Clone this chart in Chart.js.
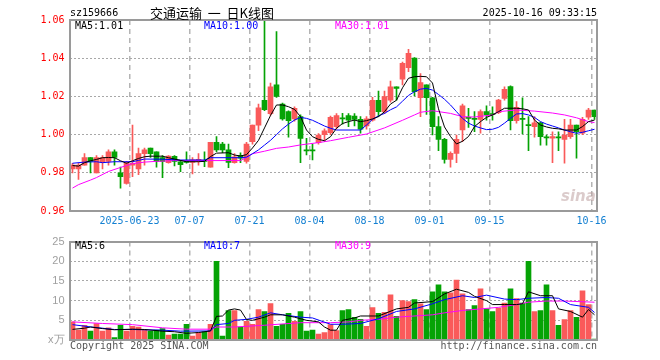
<!DOCTYPE html>
<html>
<head>
<meta charset="utf-8">
<script src="https://cdn.jsdelivr.net/npm/chart.js@4.4.1/dist/chart.umd.min.js"></script>
<style>
  body { margin: 0; background: #fff; }
  #wrap { position: relative; width: 660px; height: 360px; font-family: "DejaVu Sans Mono", monospace; font-size: 10px; }
  canvas { position: absolute; left: 0; }
  .t { position: absolute; white-space: nowrap; line-height: 12px; }
</style>
</head>
<body>
<div id="wrap">
  <canvas id="kline" width="660" height="230" style="top:0"></canvas>
  <canvas id="vol" width="660" height="130" style="top:230px"></canvas>

  <div class="t" style="left:70px;top:7px">sz159666</div>
  <div class="t" style="left:212px;top:5px;transform:translateX(-50%);font-family:'Noto Sans CJK SC',sans-serif;font-size:13px;line-height:15px">交通运输&nbsp; 一&nbsp; 日K线图</div>
  <div class="t" style="right:63px;top:7px">2025-10-16 09:33:15</div>

  <div class="t" style="left:75px;top:20px;color:#000">MA5:1.01</div>
  <div class="t" style="left:204px;top:20px;color:#0000ff">MA10:1.00</div>
  <div class="t" style="left:335px;top:20px;color:#ff00ff">MA30:1.01</div>
  <div class="t" style="left:561px;top:188px;font:italic bold 15px 'DejaVu Sans',sans-serif;line-height:16px;color:rgba(190,160,160,0.55)">sina</div>

  <div class="t" style="left:75px;top:240px;color:#000">MA5:6</div>
  <div class="t" style="left:204px;top:240px;color:#0000ff">MA10:7</div>
  <div class="t" style="left:335px;top:240px;color:#ff00ff">MA30:9</div>

  <div class="t" style="left:70px;top:340px;color:#555">Copyright 2025 SINA.COM</div>
  <div class="t" style="right:63px;top:340px;color:#555">http://finance.sina.com.cn</div>
</div>

<script>
// trading days
const dates = [
  "06-09","06-10","06-11","06-12","06-13","06-16","06-17","06-18","06-19","06-20",
  "06-23","06-24","06-25","06-26","06-27","06-30","07-01","07-02","07-03","07-04",
  "07-07","07-08","07-09","07-10","07-11","07-14","07-15","07-16","07-17","07-18",
  "07-21","07-22","07-23","07-24","07-25","07-28","07-29","07-30","07-31","08-01",
  "08-04","08-05","08-06","08-07","08-08","08-11","08-12","08-13","08-14","08-15",
  "08-18","08-19","08-20","08-21","08-22","08-25","08-26","08-27","08-28","08-29",
  "09-01","09-02","09-03","09-04","09-05","09-08","09-09","09-10","09-11","09-12",
  "09-15","09-16","09-17","09-18","09-19","09-22","09-23","09-24","09-25","09-26",
  "09-29","09-30","10-09","10-10","10-13","10-14","10-15","10-16"
];
const tickDays = ["06-23","07-07","07-21","08-04","08-18","09-01","09-15","10-16"];
const tickText = ["2025-06-23","07-07","07-21","08-04","08-18","09-01","09-15","10-16"];

const open = [
  0.982,0.982,0.984,0.988,0.980,0.9855,0.986,0.991,0.980,0.9745,
  0.984,0.982,0.990,0.993,0.991,0.988,0.9853,0.9886,0.9858,0.9858,
  0.9855,0.986,0.9865,0.983,0.996,0.995,0.992,0.9853,0.989,0.986,
  0.9963,1.005,1.018,1.011,1.026,1.016,1.012,1.0082,1.0094,0.992,
  0.992,0.9958,1.000,1.001,1.0042,1.0084,1.0099,1.0097,1.008,1.0045,
  1.0076,1.018,1.012,1.018,1.025,1.029,1.035,1.040,1.0193,1.026,
  1.0193,1.0042,0.9975,0.987,0.9902,1.0024,1.0087,1.0082,1.008,1.012,
  1.0107,1.0115,1.019,1.0251,1.0073,1.0082,1.0049,1.0042,1.0062,0.9985,
  0.9981,0.9985,0.9975,0.9989,1.005,1.0007,1.0091,1.0129
];
const high = [
  0.985,0.985,0.990,0.988,0.989,0.989,0.992,0.992,0.983,0.986,
  1.005,0.993,0.993,0.993,0.991,0.989,0.989,0.989,0.986,0.991,
  0.988,0.990,0.991,0.996,0.999,0.996,0.995,0.990,0.9905,0.996,
  1.005,1.016,1.060,1.027,1.054,1.0165,1.0125,1.0145,1.0103,0.998,
  0.995,1.0005,1.003,1.0097,1.011,1.0111,1.011,1.011,1.0094,1.0094,
  1.0195,1.0228,1.0228,1.028,1.025,1.038,1.0446,1.0403,1.032,1.026,
  1.0195,1.0094,0.998,0.991,0.9998,1.016,1.0138,1.012,1.013,1.015,
  1.0146,1.0185,1.025,1.0255,1.0173,1.0193,1.0094,1.0094,1.0065,0.9998,
  1.0015,1.0015,1.008,1.008,1.005,1.009,1.0138,1.0129
];
const low = [
  0.980,0.9765,0.984,0.980,0.980,0.982,0.984,0.984,0.972,0.974,
  0.978,0.979,0.984,0.988,0.983,0.9775,0.985,0.9836,0.9806,0.985,
  0.9794,0.984,0.9832,0.983,0.991,0.9905,0.9827,0.985,0.9853,0.985,
  0.995,1.002,1.0125,1.010,1.0195,1.0075,0.9986,1.007,0.9853,0.9893,
  0.9867,0.995,0.997,1.000,1.003,1.0055,1.0042,1.0045,1.0007,1.0028,
  1.007,1.0094,1.011,1.017,1.018,1.026,1.033,1.0202,1.0094,1.0106,
  0.9998,0.9916,0.985,0.9829,0.9853,0.9963,1.0038,1.0015,1.0007,1.0076,
  1.0076,1.011,1.018,1.0024,1.006,1.0003,0.9916,0.9986,0.9945,0.9945,
  0.9853,0.9916,0.985,0.998,0.9876,1.000,1.008,1.008
];
const close = [
  0.984,0.984,0.988,0.986,0.988,0.988,0.991,0.988,0.978,0.985,
  0.985,0.990,0.992,0.990,0.986,0.986,0.9888,0.986,0.9843,0.9855,
  0.9868,0.987,0.986,0.996,0.992,0.992,0.9855,0.9884,0.9876,0.995,
  1.005,1.014,1.013,1.025,1.020,1.0082,1.0073,1.0138,0.998,0.9915,
  0.9915,0.9998,1.002,1.009,1.0099,1.0082,1.0076,1.008,1.0028,1.0082,
  1.018,1.012,1.0199,1.025,1.0242,1.0373,1.0425,1.0225,1.0272,1.0193,
  1.0042,0.9975,0.987,0.9902,0.9975,1.015,1.0085,1.008,1.012,1.0103,
  1.0105,1.0181,1.0237,1.0073,1.0143,1.008,1.0047,1.0062,0.9989,0.9983,
  0.9989,0.9983,0.9998,1.005,1.0015,1.008,1.0129,1.0094
];
// volume, 万
const volume = [
  4.6,2.5,3.75,2.25,4.2,2.25,3.1,0.6,3.75,2.25,
  3.5,3.3,2.5,2.25,2.5,2.9,1.25,1.5,1.5,4.0,
  1.0,1.9,2.1,4.0,20.0,1.0,7.5,7.5,3.3,4.75,
  4.0,7.75,7.25,9.25,3.5,4.0,6.8,4.75,7.25,2.25,
  2.5,1.5,1.9,3.9,2.4,7.5,7.75,5.75,5.25,3.5,
  8.25,6.75,7.0,11.5,6.0,10.0,9.75,10.25,9.2,7.75,
  12.25,14.0,12.25,12.0,15.25,11.75,7.75,8.75,13.0,7.9,
  7.25,8.1,9.4,13.0,10.5,9.4,20.0,7.25,7.5,14.0,
  7.5,3.75,5.2,7.5,5.75,12.5,9.0,0.25
];

// moving averages: [day index, value]
const priceMa5 = [[0,0.9838],[1,0.9835],[2,0.9853],[3,0.9863],[4,0.987],[5,0.9879],[6,0.988],[7,0.9879],[8,0.9863],[9,0.985],
  [10,0.9863],[11,0.9875],[12,0.9884],[13,0.9887],[15,0.9887],[16,0.9879],[17,0.9872],[19,0.9858],[21,0.9858],[22,0.986],
  [23,0.9885],[24,0.9903],[26,0.9905],[27,0.9893],[28,0.9888],[29,0.9895],[30,0.993],[31,0.997],[32,1.0035],[33,1.010],
  [34,1.0155],[35,1.0155],[36,1.0146],[37,1.0132],[38,1.0094],[39,1.0024],[40,0.9989],[41,0.9975],[42,0.9968],[43,0.9989],
  [44,1.0033],[45,1.0058],[46,1.0068],[47,1.0076],[48,1.0068],[49,1.0073],[50,1.0082],[51,1.0094],[52,1.012],[53,1.016],
  [54,1.018],[55,1.0245],[56,1.0295],[57,1.0303],[58,1.0305],[59,1.0303],[60,1.027],[61,1.0135],[62,1.004],[63,0.999],
  [64,0.9951],[65,0.9965],[66,0.999],[67,1.0042],[68,1.0068],[69,1.009],[70,1.0103],[71,1.012],[72,1.0138],[74,1.0138],
  [75,1.0135],[76,1.0129],[77,1.0076],[78,1.005],[79,1.004],[80,1.0033],[81,1.003],[82,1.0024],[84,1.0024],[85,1.0042],
  [86,1.0068],[87,1.0076]];
const priceMa10 = [[0,0.985],[2,0.9856],[4,0.9858],[5,0.9853],[7,0.9858],[10,0.9858],[11,0.9865],[12,0.9872],[15,0.9871],[18,0.9867],
  [22,0.9867],[23,0.9879],[28,0.9879],[29,0.9882],[30,0.990],[31,0.992],[32,0.9945],[33,0.997],[34,1.000],[35,1.003],
  [36,1.0055],[37,1.0076],[38,1.009],[39,1.0085],[40,1.0075],[41,1.006],[42,1.0045],[43,1.0033],[44,1.0024],[48,1.0024],
  [49,1.005],[50,1.008],[51,1.0098],[52,1.0111],[53,1.013],[54,1.0145],[55,1.0175],[56,1.0205],[57,1.0225],[58,1.0238],
  [59,1.0242],[60,1.0233],[61,1.021],[62,1.0185],[63,1.0155],[64,1.012],[65,1.0085],[66,1.006],[67,1.0045],[68,1.0035],
  [69,1.0026],[70,1.0028],[71,1.0038],[72,1.006],[73,1.0085],[74,1.0108],[75,1.011],[76,1.0103],[77,1.009],[78,1.0068],
  [79,1.0055],[80,1.0045],[81,1.0035],[82,1.0024],[83,1.0015],[84,1.0007],[85,1.0012],[86,1.002],[87,1.0028]];
const priceMa30 = [[0,0.972],[1,0.9738],[3,0.9762],[4,0.9775],[6,0.9807],[8,0.9828],[9,0.9838],[10,0.9848],[12,0.9856],[14,0.986],
  [17,0.9864],[28,0.9864],[29,0.988],[30,0.990],[32,0.9913],[34,0.9928],[36,0.9935],[38,0.9946],[41,0.9958],[43,0.9968],
  [46,0.9986],[49,1.0003],[52,1.0035],[55,1.0075],[57,1.0103],[58,1.0117],[60,1.0125],[63,1.0111],[65,1.0094],[67,1.0092],
  [70,1.0103],[71,1.012],[74,1.0129],[77,1.0123],[80,1.0113],[82,1.0103],[84,1.0088],[86,1.0068],[87,1.0063]];

const volMa5 = [[0,2.7],[2,3.0],[3,3.3],[5,2.9],[7,2.6],[10,2.75],[12,2.67],[15,2.25],[17,2.1],[19,1.7],
  [21,1.9],[23,2.3],[24,6.0],[25,6.1],[26,7.6],[27,7.9],[28,7.6],[29,5.2],[30,5.0],[32,5.8],
  [33,6.4],[35,6.4],[37,5.8],[39,5.0],[41,4.6],[42,3.3],[43,2.5],[44,2.5],[45,5.0],[47,5.6],
  [48,6.1],[51,6.1],[54,7.9],[56,8.3],[57,9.4],[60,9.75],[62,11.7],[64,12.9],[66,12.1],[67,11.1],
  [69,10.0],[70,9.0],[72,9.0],[74,9.0],[75,9.2],[76,12.25],[78,11.25],[80,11.25],[81,7.9],[83,7.25],
  [85,5.8],[86,7.75],[87,6.4]];
const volMa10 = [[0,3.9],[3,3.33],[7,2.67],[10,2.67],[15,2.5],[18,2.25],[23,2.3],[24,3.9],[26,4.2],[27,5.0],
  [29,5.25],[31,5.8],[33,6.9],[35,6.4],[38,5.8],[40,5.6],[43,4.0],[45,4.0],[48,4.2],[51,5.4],
  [54,7.25],[57,7.9],[60,9.2],[62,10.25],[65,11.25],[67,10.8],[69,11.4],[72,10.4],[74,10.25],[76,10.6],
  [79,10.8],[81,10.6],[83,9.0],[86,8.3],[87,7.0]];
const volMa30 = [[0,4.6],[5,4.2],[10,3.9],[15,3.1],[19,2.75],[23,2.75],[24,3.3],[27,3.3],[32,3.75],[38,4.4],
  [43,4.4],[46,4.6],[48,5.0],[51,5.25],[54,5.8],[60,6.4],[62,6.9],[65,7.5],[68,7.9],[71,8.3],
  [74,9.0],[76,9.6],[79,9.9],[82,9.9],[87,9.6]];

const RED = "#fa5a5a", GREEN = "#05a305";
const MONO = '"DejaVu Sans Mono", monospace';
const candleColor = dates.map((d, i) => close[i] >= open[i] ? RED : GREEN);

function maLine(pairs, color) {
  return {
    type: "line",
    data: pairs.map(p => ({ x: dates[p[0]], y: p[1] })),
    borderColor: color,
    borderWidth: 1,
    pointRadius: 0,
    tension: 0,
    order: 0
  };
}

// panel border
const frame = {
  id: "frame",
  afterDatasetsDraw(chart) {
    const { ctx, chartArea: a } = chart;
    ctx.save();
    ctx.strokeStyle = "#9a9a9a";
    ctx.lineWidth = 2;
    const l = Math.round(a.left), r = Math.floor(a.right);
    ctx.strokeRect(l, Math.round(a.top), r - l, Math.round(a.bottom) - Math.round(a.top));
    ctx.restore();
  }
};

const dayGrid = ctx => tickDays.includes(dates[ctx.index]) ? "#b4b4b4" : "rgba(0,0,0,0)";

function xAxis(height, showLabels) {
  return {
    afterFit: s => { s.height = height; },
    ticks: {
      display: showLabels,
      autoSkip: false,
      maxRotation: 0,
      minRotation: 0,
      labelOffset: -3,
      padding: 4,
      color: "#1480d2",
      font: { family: MONO, size: 10 },
      callback: (v, i) => {
        const j = tickDays.indexOf(dates[i]);
        return j >= 0 ? tickText[j] : "";
      }
    },
    grid: { offset: true, drawTicks: false, lineWidth: 1.5, color: dayGrid },
    border: { display: false, dash: [5, 4] }
  };
}

Chart.defaults.animation = false;

new Chart(document.getElementById("kline"), {
  type: "bar",
  data: {
    labels: dates,
    datasets: [
      maLine(priceMa5, "#000000"),
      maLine(priceMa10, "#0000ff"),
      maLine(priceMa30, "#ff00ff"),
      {
        data: dates.map((d, i) => [open[i], close[i]]),
        backgroundColor: candleColor,
        barThickness: 5,
        minBarLength: 1,
        grouped: false,
        order: 1
      },
      {
        data: dates.map((d, i) => [low[i], high[i]]),
        backgroundColor: candleColor,
        barThickness: 1,
        grouped: false,
        order: 2
      }
    ]
  },
  options: {
    responsive: false,
    devicePixelRatio: 1,
    events: [],
    layout: { padding: { top: 20, right: 62.5, left: 0, bottom: 0 } },
    plugins: { legend: { display: false }, tooltip: { enabled: false } },
    scales: {
      x: xAxis(19, true),
      y: {
        min: 0.96,
        max: 1.06,
        afterFit: s => { s.width = 69.5; },
        ticks: {
          stepSize: 0.02,
          padding: 5,
          color: "#ff0000",
          font: { family: MONO, size: 10 },
          callback: v => v.toFixed(2)
        },
        grid: {
          drawTicks: false,
          color: ctx => (ctx.tick && ctx.tick.value > 0.965 && ctx.tick.value < 1.055) ? "#a8a8a8" : "rgba(0,0,0,0)"
        },
        border: { display: false, dash: [2, 2] }
      }
    }
  },
  plugins: [frame]
});

new Chart(document.getElementById("vol"), {
  type: "bar",
  data: {
    labels: dates,
    datasets: [
      maLine(volMa5, "#000000"),
      maLine(volMa10, "#0000ff"),
      maLine(volMa30, "#ff00ff"),
      {
        data: volume,
        backgroundColor: candleColor,
        barThickness: 5,
        order: 1
      }
    ]
  },
  options: {
    responsive: false,
    devicePixelRatio: 1,
    events: [],
    layout: { padding: { top: 10, right: 62.5, left: 0, bottom: 0 } },
    plugins: { legend: { display: false }, tooltip: { enabled: false } },
    scales: {
      x: xAxis(20, false),
      y: {
        min: 0,
        max: 25,
        afterFit: s => { s.width = 69.5; },
        ticks: {
          stepSize: 5,
          padding: 5,
          color: "#a0a0a0",
          font: { family: '"Liberation Sans", sans-serif', size: 11 },
          callback: v => v === 0 ? "x万" : v
        },
        grid: {
          drawTicks: false,
          color: ctx => (ctx.tick && ctx.tick.value > 0 && ctx.tick.value < 25) ? "#a8a8a8" : "rgba(0,0,0,0)"
        },
        border: { display: false, dash: [2, 2] }
      }
    }
  },
  plugins: [frame]
});
</script>
</body>
</html>
